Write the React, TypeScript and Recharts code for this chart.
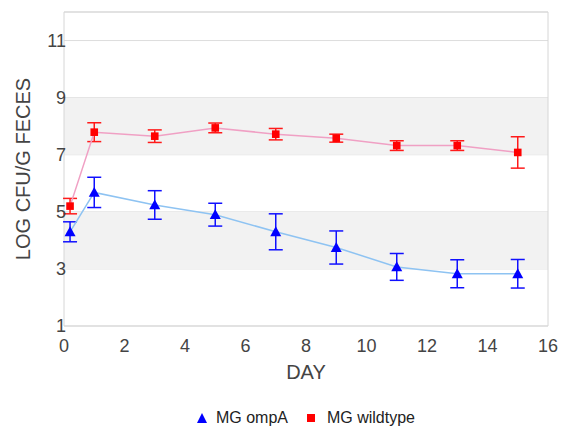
import React from 'react';
import {
  ComposedChart, Line, XAxis, YAxis, CartesianGrid, ReferenceArea, ErrorBar, Legend, Label,
} from 'recharts';

const days = [0.2, 1, 3, 5, 7, 9, 11, 13, 15];
const ompA = [4.3, 5.68, 5.24, 4.9, 4.3, 3.75, 3.07, 2.83, 2.83];
const ompAErr = [0.35, 0.53, 0.5, 0.4, 0.63, 0.58, 0.47, 0.49, 0.5];
const wildtype = [5.2, 7.79, 7.65, 7.94, 7.72, 7.58, 7.32, 7.32, 7.08];
const wildtypeErr = [0.27, 0.33, 0.22, 0.17, 0.2, 0.14, 0.17, 0.17, 0.55];
const xTicks = [0, 2, 4, 6, 8, 10, 12, 14, 16];
const yTicks = [1, 3, 5, 7, 9, 11];
const bands = [[3, 5], [7, 9]];

const data = days.map((d, i) => ({
  day: d,
  ompA: ompA[i],
  ompAErr: ompAErr[i],
  wildtype: wildtype[i],
  wildtypeErr: wildtypeErr[i],
}));

const FONT = '"Liberation Sans", Arial, sans-serif';
const BLUE = '#0000ff';
const RED = '#ff0000';

const TriangleDot = (props: any) => {
  const { cx, cy, index } = props;
  if (cx == null || cy == null) return <g key={`t${index}`} />;
  const s = 5.5;
  return (
    <polygon
      key={`t${index}`}
      points={`${cx},${cy - s} ${cx - s},${cy + s * 0.8} ${cx + s},${cy + s * 0.8}`}
      fill={BLUE}
    />
  );
};

const SquareDot = (props: any) => {
  const { cx, cy, index } = props;
  if (cx == null || cy == null) return <g key={`s${index}`} />;
  const s = 3.8;
  return <rect key={`s${index}`} x={cx - s} y={cy - s} width={2 * s} height={2 * s} fill={RED} />;
};

const YTitle = (props: any) => {
  const vb = props.viewBox || {};
  const cx = 15;
  const cy = (vb.y ?? 0) + (vb.height ?? 0) / 2;
  return (
    <text
      x={cx}
      y={cy}
      transform={`rotate(-90 ${cx} ${cy})`}
      textAnchor="middle"
      dominantBaseline="central"
      fill="#444"
      fontSize={20}
      fontFamily={FONT}
    >
      LOG CFU/G FECES
    </text>
  );
};

const LegendContent = () => (
  <div
    style={{
      display: 'flex',
      justifyContent: 'center',
      alignItems: 'center',
      fontFamily: FONT,
      fontSize: 16,
      lineHeight: '18px',
      color: '#222',
      paddingLeft: 43,
      boxSizing: 'border-box',
    }}
  >
    <svg width={12} height={12} style={{ marginRight: 8 }}>
      <polygon points="6,1 1,11 11,11" fill={BLUE} />
    </svg>
    <span style={{ marginRight: 17 }}>MG ompA</span>
    <svg width={12} height={12} style={{ marginRight: 10 }}>
      <rect x={2} y={2} width={8} height={8} fill={RED} />
    </svg>
    <span>MG wildtype</span>
  </div>
);

export default function App() {
  return (
    <ComposedChart
      width={552}
      height={418}
      data={data}
      margin={{ top: 4, right: 12, left: 0, bottom: 44 }}
    >
      {bands.map(([a, b]) => (
        <ReferenceArea key={`b${a}`} x1={0} x2={16} y1={a} y2={b} fill="#f2f2f2" fillOpacity={1} stroke="none" />
      ))}
      <CartesianGrid vertical={false} stroke="#dddddd" strokeDasharray="" />
      <ReferenceArea x1={0} x2={16} y1={1} y2={12} fill="none" stroke="#d6d6d6" strokeWidth={1} />
      <XAxis
        dataKey="day"
        type="number"
        domain={[0, 16]}
        ticks={xTicks}
        axisLine={false}
        tickLine={false}
        tickSize={0}
        tickMargin={13}
        height={56}
        tick={{ fill: '#444', fontSize: 18, fontFamily: FONT }}
        interval={0}
      >
        <Label value="DAY" position="insideBottom" offset={3} fill="#444" fontSize={20} fontFamily={FONT} />
      </XAxis>
      <YAxis
        type="number"
        domain={[1, 12]}
        ticks={yTicks}
        axisLine={false}
        tickLine={false}
        tickSize={0}
        tickMargin={-2}
        width={56}
        interval={0}
        tick={{ fill: '#444', fontSize: 18, fontFamily: FONT }}
      >
        <Label content={<YTitle />} />
      </YAxis>
      <Line
        dataKey="ompA"
        stroke="#8ec3f2"
        strokeWidth={1.5}
        dot={<TriangleDot />}
        activeDot={false}
        isAnimationActive={false}
        legendType="triangle"
      >
        <ErrorBar dataKey="ompAErr" direction="y" width={7} stroke="#1010ff" strokeWidth={1.5} isAnimationActive={false} />
      </Line>
      <Line
        dataKey="wildtype"
        stroke="#f0a0c4"
        strokeWidth={1.5}
        dot={<SquareDot />}
        activeDot={false}
        isAnimationActive={false}
        legendType="square"
      >
        <ErrorBar dataKey="wildtypeErr" direction="y" width={7} stroke="#ff1a1a" strokeWidth={1.5} isAnimationActive={false} />
      </Line>
      <Legend
        layout="horizontal"
        verticalAlign="middle"
        align="center"
        content={<LegendContent />}
        wrapperStyle={{ position: 'absolute', top: 401, left: 0, width: 552 }}
      />
    </ComposedChart>
  );
}
